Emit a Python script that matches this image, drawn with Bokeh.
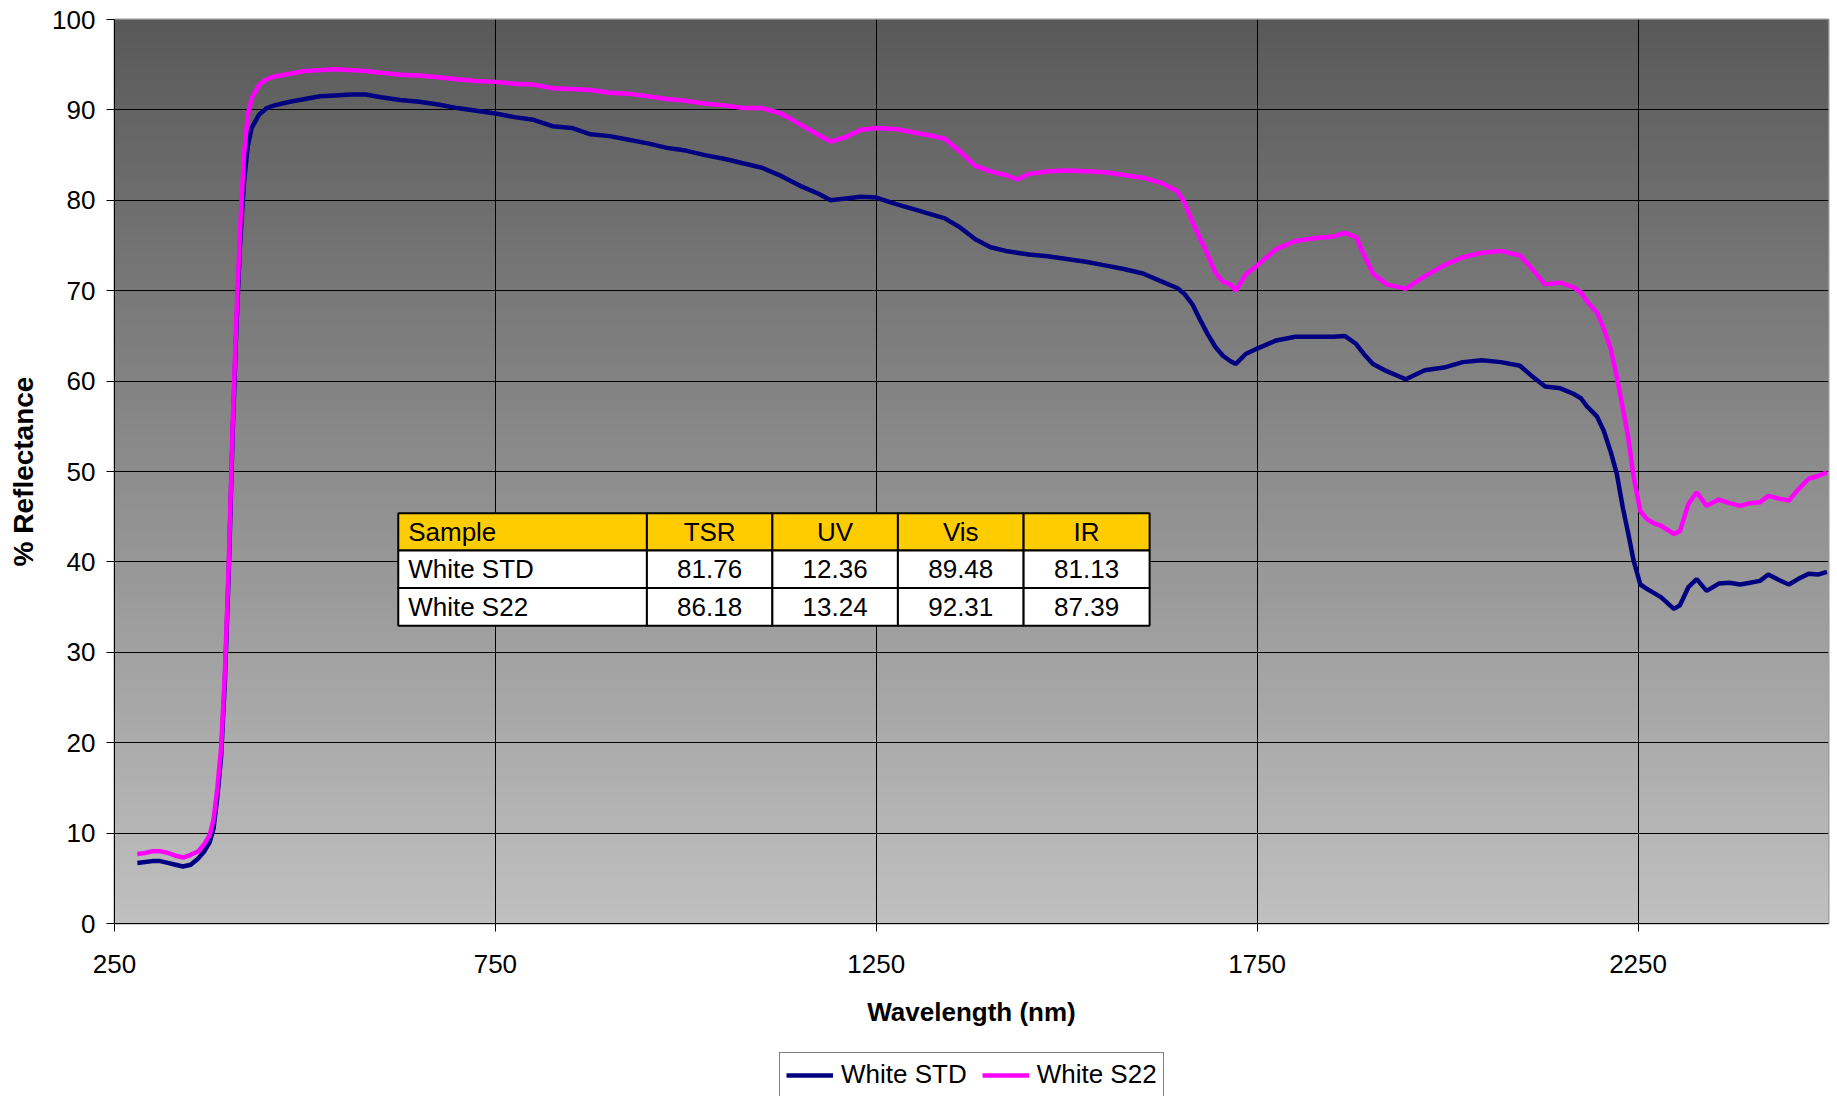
import numpy as np
from bokeh.plotting import figure
from bokeh.models import FixedTicker, Range1d, Legend, LegendItem
from bokeh.layouts import column
from bokeh.core.properties import value
from bokeh.embed import file_html
from bokeh.resources import INLINE

# ---------------- data ----------------
wavelength = [280, 290, 300, 310, 320, 330, 340, 350, 360, 368, 375, 380, 385, 390, 395,
              400, 405, 410, 415, 420, 425, 430, 440, 450, 460, 480, 500, 520, 540, 560,
              580, 600, 625, 650, 675, 700, 725, 750, 775, 800, 825, 850, 875, 900, 925,
              950, 975, 1000, 1025, 1050, 1075, 1100, 1125, 1150, 1175, 1190, 1210, 1230,
              1250, 1275, 1300, 1320, 1340, 1360, 1380, 1400, 1420, 1435, 1450, 1475, 1500,
              1525, 1550, 1575, 1600, 1625, 1645, 1655, 1665, 1675, 1685, 1695, 1705, 1715,
              1722, 1735, 1750, 1775, 1800, 1825, 1850, 1865, 1880, 1890, 1902, 1920, 1945,
              1970, 1995, 2020, 2045, 2070, 2095, 2110, 2128, 2148, 2165, 2175, 2183, 2196,
              2205, 2214, 2222, 2230, 2237, 2244, 2253, 2262, 2270, 2280, 2297, 2305, 2316,
              2327, 2340, 2356, 2370, 2384, 2397, 2410, 2421, 2435, 2448, 2460, 2474, 2486,
              2498]

white_std = [6.7, 6.8, 6.9, 6.9, 6.7, 6.5, 6.3, 6.5, 7.2, 8.0, 9.0, 10.5, 14.0, 18.5, 27.0,
             39.0, 54.0, 66.0, 75.5, 82.0, 86.0, 88.0, 89.5, 90.2, 90.5, 90.9, 91.2, 91.5, 91.6, 91.7,
             91.7, 91.4, 91.1, 90.9, 90.6, 90.2, 89.9, 89.6, 89.2, 88.9, 88.2, 88.0, 87.3, 87.1, 86.7,
             86.3, 85.8, 85.5, 85.0, 84.6, 84.1, 83.6, 82.7, 81.6, 80.7, 80.0, 80.2, 80.4,
             80.3, 79.6, 79.0, 78.5, 78.0, 77.0, 75.7, 74.8, 74.4, 74.2, 74.0, 73.8, 73.5,
             73.2, 72.8, 72.4, 71.9, 71.0, 70.3, 69.6, 68.5, 66.8, 65.2, 63.8, 62.8, 62.2,
             61.9, 63.0, 63.6, 64.5, 64.9, 64.9, 64.9, 65.0, 64.1, 63.0, 61.9, 61.1, 60.2,
             61.2, 61.5, 62.1, 62.3, 62.1, 61.7, 60.6, 59.4, 59.2, 58.6, 58.1, 57.2, 56.1,
             54.5, 52.2, 49.8, 46.0, 43.2, 40.2, 37.5, 37.0, 36.6, 36.1, 34.8, 35.2, 37.2,
             38.1, 36.8, 37.6, 37.7, 37.5, 37.7, 37.9, 38.6, 38.0, 37.5, 38.1, 38.7, 38.6,
             38.9]

white_s22 = [7.7, 7.8, 8.0, 8.0, 7.8, 7.5, 7.3, 7.6, 8.0, 8.8, 9.8, 11.5, 15.0, 19.5, 28.0,
             40.0, 55.0, 67.0, 77.0, 85.0, 89.5, 91.3, 92.8, 93.4, 93.7, 94.0, 94.3, 94.4, 94.5, 94.4,
             94.3, 94.1, 93.9, 93.8, 93.6, 93.4, 93.2, 93.1, 92.9, 92.8, 92.4, 92.3, 92.2, 91.9, 91.8,
             91.5, 91.2, 91.0, 90.7, 90.5, 90.2, 90.2, 89.6, 88.4, 87.2, 86.5, 87.0, 87.8,
             88.0, 87.9, 87.5, 87.2, 86.8, 85.4, 83.8, 83.2, 82.8, 82.3, 82.9, 83.2, 83.3,
             83.2, 83.1, 82.8, 82.5, 81.9, 81.0, 79.7, 77.6, 75.8, 74.0, 72.0, 71.0, 70.7,
             70.0, 71.8, 72.8, 74.6, 75.5, 75.8, 76.0, 76.4, 75.9, 74.0, 71.9, 70.7, 70.2,
             71.6, 72.8, 73.7, 74.2, 74.4, 73.9, 72.5, 70.7, 70.9, 70.4, 69.8, 68.8, 67.6,
             65.8, 63.6, 60.5, 57.0, 53.8, 49.5, 45.6, 44.7, 44.3, 44.0, 43.1, 43.4, 46.4,
             47.7, 46.2, 46.9, 46.5, 46.2, 46.5, 46.6, 47.3, 47.0, 46.8, 48.0, 49.2, 49.5,
             49.9]

series_names = ["White STD", "White S22"]
series_colors = ["#000080", "#FF00FF"]
table_header = ["Sample", "TSR", "UV", "Vis", "IR"]
table_samples = ["White STD", "White S22"]
tsr = [81.76, 86.18]
uv = [12.36, 13.24]
vis = [89.48, 92.31]
ir = [81.13, 87.39]

x_ticks = [250, 750, 1250, 1750, 2250]
y_ticks = [0, 10, 20, 30, 40, 50, 60, 70, 80, 90, 100]

# ---------------- main figure ----------------
FONT = "Liberation Sans"
p = figure(width=1837, height=1052, output_backend="svg", toolbar_location=None,
           x_range=Range1d(250, 2500), y_range=Range1d(0, 100),
           min_border_left=114, min_border_right=9, min_border_top=19, min_border_bottom=129,
           background_fill_color="#a0a0a0", border_fill_color="white")

# gradient plot-area background (dark top -> light bottom)
n = 256
t = np.linspace(0, 1, n)  # row 0 = bottom
top = np.array([89, 89, 89], dtype=float)
bot = np.array([192, 192, 192], dtype=float)
cols = (bot[None, :] * (1 - t[:, None]) + top[None, :] * t[:, None]).round().astype(np.uint8)
img = np.empty((n, 1), dtype=np.uint32)
view = img.view(dtype=np.uint8).reshape((n, 1, 4))
view[:, 0, 0] = cols[:, 0]
view[:, 0, 1] = cols[:, 1]
view[:, 0, 2] = cols[:, 2]
view[:, 0, 3] = 255
p.image_rgba(image=[img], x=250, y=0, dw=2250, dh=100, level="image")

# grid
p.xgrid.ticker = FixedTicker(ticks=x_ticks)
p.ygrid.ticker = FixedTicker(ticks=y_ticks)
for g in (p.xgrid, p.ygrid):
    g.grid_line_color = "black"
    g.grid_line_width = 1
    g.grid_line_alpha = 1.0

p.outline_line_color = "#9a9a9a"
p.outline_line_width = 2

# axes
p.xaxis.ticker = FixedTicker(ticks=x_ticks)
p.yaxis.ticker = FixedTicker(ticks=y_ticks)
for ax in (p.xaxis[0], p.yaxis[0]):
    ax.axis_line_color = "black"
    ax.axis_line_width = 1
    ax.major_tick_line_color = "black"
    ax.major_tick_out = 8
    ax.major_tick_in = 0
    ax.minor_tick_line_color = None
    ax.major_label_text_font = FONT
    ax.major_label_text_font_size = "26px"
    ax.major_label_text_color = "black"
    ax.axis_label_text_font = FONT
    ax.axis_label_text_font_style = "bold"
    ax.axis_label_text_color = "black"

p.xaxis.axis_label = "Wavelength (nm)"
p.xaxis.axis_label_text_font_size = "26px"
p.xaxis.major_label_standoff = 23
p.xaxis.axis_label_standoff = 21
p.yaxis.axis_label = "% Reflectance"
p.yaxis.axis_label_text_font_size = "28px"
p.yaxis.major_label_standoff = 11
p.yaxis.axis_label_standoff = 10

# curves
p.line(wavelength, white_std, line_color=series_colors[0], line_width=4.5)
p.line(wavelength, white_s22, line_color=series_colors[1], line_width=4.5)

# ---------------- table (annotation) ----------------
col_edges = [622.5, 948.9, 1113.6, 1278.4, 1443.4, 1608.8]
row_edges = [45.37, 41.25, 37.12, 32.95]
rows = [table_header] + [[table_samples[i], f"{tsr[i]:.2f}", f"{uv[i]:.2f}", f"{vis[i]:.2f}", f"{ir[i]:.2f}"]
                         for i in range(len(table_samples))]
ql, qr, qt, qb, qf = [], [], [], [], []
tx, ty, tt, ta = [], [], [], []
for r, row in enumerate(rows):
    for c, txt in enumerate(row):
        ql.append(col_edges[c]); qr.append(col_edges[c + 1])
        qt.append(row_edges[r]); qb.append(row_edges[r + 1])
        qf.append("#FFCC00" if r == 0 else "white")
        yc = (row_edges[r] + row_edges[r + 1]) / 2
        if c == 0:
            tx.append(col_edges[0] + 13); ta.append("left")
        else:
            tx.append((col_edges[c] + col_edges[c + 1]) / 2); ta.append("center")
        ty.append(yc); tt.append(txt)
p.quad(left=ql, right=qr, top=qt, bottom=qb, fill_color=qf, line_color="black", line_width=2)
p.text(x=tx, y=ty, text=tt, text_align=ta, text_baseline="middle",
       text_font=value(FONT), text_font_size="26px", text_color="black")

# ---------------- legend strip below the chart ----------------
# (its frame is aligned with the main frame by the column layout; the series
#  are drawn off its visible range so only the legend shows)
lf = figure(width=1837, height=44, output_backend="svg", toolbar_location=None,
            x_range=Range1d(-2, -1), y_range=Range1d(-2, -1),
            x_axis_location=None, y_axis_location=None,
            min_border_left=114, min_border_right=9, min_border_top=0, min_border_bottom=0,
            background_fill_color="white", border_fill_color="white", outline_line_color=None)
lf.xgrid.visible = False
lf.ygrid.visible = False
items = []
for name, color, ys in zip(series_names, series_colors, [white_std, white_s22]):
    r = lf.line(wavelength, ys, line_color=color, line_width=4.5)
    items.append(LegendItem(label=name, renderers=[r]))
lg = Legend(items=items, orientation="horizontal", location=(665, -1))
lg.label_text_font = FONT
lg.label_text_font_size = "26px"
lg.label_text_color = "black"
lg.glyph_width = 47
lg.glyph_height = 26
lg.label_height = 26
lg.label_standoff = 8
lg.spacing = 15
lg.padding = 6
lg.margin = 0
lg.border_line_color = "black"
lg.border_line_width = 1
lg.background_fill_color = "white"
lg.background_fill_alpha = 1.0
lf.add_layout(lg, "center")

open("out.html", "w").write(file_html(column(p, lf, spacing=0), INLINE))
